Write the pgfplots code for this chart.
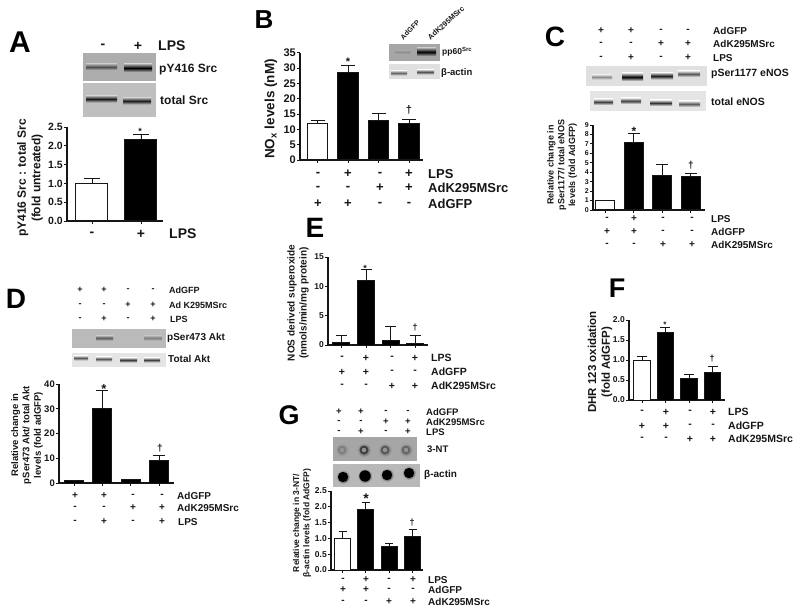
\documentclass[border=0pt]{standalone}
\usepackage{fontspec}
\usepackage{pgfplots}
\pgfplotsset{compat=1.18}
\setmainfont{Liberation Sans}
\definecolor{Ink}{HTML}{161616}

\newcommand{\fs}[1]{\fontsize{#1}{\the\dimexpr #1pt*12/10\relax}\selectfont\bfseries}
% blot: x1 x2 y1 y2 colour; band: x1 x2 y halfheight colour (fades to the last blot colour)
\newcommand{\blot}[5]{\gdef\blotbg{#5}\fill[#5] (#1,#3) rectangle (#2,#4);}
\newcommand{\band}[5]{\shade[top color=\blotbg,bottom color=\blotbg,middle color=#5] (#1,#3-#4) rectangle (#2,#3+#4);}
% sign row: y, list of x/sign, label x, label, size
\newcommand{\row}[5]{%
  \foreach \sx/\sg in {#2} {\node[font=\fs{#5},text=Ink] at (\sx,#1) {\sg};}
  \node[anchor=west,inner sep=0pt,font=\fs{#5},text=Ink] at (#3,#1) {#4};}
\newcommand{\lab}[4]{\node[anchor=west,inner sep=0pt,font=\fs{#4},text=Ink] at (#1,#2) {#3};}
\newcommand{\letter}[3]{\node[font=\fs{#3},text=black] at (#1) {#2};}
\newcommand{\ylab}[3]{\node[rotate=90,align=center,inner sep=0pt,font=\fs{#3},text=Ink] at (#1) {#2};}
\newcommand{\note}[3]{\node[font=\fs{#3},text=Ink] at (#1) {#2};}

\pgfplotsset{
  panel/.style={
    scale only axis, axis lines=left, axis line style={-,line width=1.1pt,draw=Ink},
    enlargelimits=false, ymin=0, xtick={0,1,2,3}, xticklabel=\empty,
    tick align=outside, major tick length=3pt, tick style={line width=0.9pt,draw=Ink},
    ybar, bar shift=0pt, /pgf/number format/assume math mode=true,
    yticklabel style={text=Ink,inner sep=1pt},
  },
  onedec/.style={yticklabel style={/pgf/number format/fixed,/pgf/number format/fixed zerofill,/pgf/number format/precision=1}},
  cap/.style={error bars/.cd, y dir=plus, y explicit,
    error bar style={line width=0.9pt,draw=Ink},
    error mark options={rotate=90,mark size=#1,line width=0.9pt,draw=Ink}},
  whitebar/.style={fill=white,draw=Ink,line width=1pt},
  blackbar/.style={fill=black,draw=Ink,line width=1pt},
}

\begin{document}
\begin{tikzpicture}
\begin{scope}[x=1pt,y=-1pt]
\path[use as bounding box] (0,0) rectangle (800,612);

% --- A ---
\letter{20,42}{A}{30}
\row{46}{103/-,138/+}{158}{LPS}{14}
\blot{83}{156}{53}{81}{black!32}
\band{86}{117}{67}{3}{black!70}
\band{124}{152}{68}{4}{black}
\blot{83}{156}{83}{117}{black!25}
\band{86}{117}{99}{3.5}{black!90}
\band{123}{151}{101}{3.5}{black!90}
\lab{159}{70}{pY416 Src}{12}
\lab{160}{100}{total Src}{12}
\ylab{30,178}{pY416 Src : total Src\\(fold untreated)}{12}
\row{234}{92/-,141/+}{169}{LPS}{14}
\note{140,131}{*}{9}

% --- B ---
\letter{264,20}{B}{26}
\blot{389}{440}{44}{61}{black!35}
\band{395}{410}{52}{1.8}{black!45}
\band{417}{436}{52}{4}{black}
\blot{389}{440}{64}{79}{black!12}
\band{391}{407}{73}{2.5}{black!60}
\band{417}{434}{72}{2.5}{black!70}
\node[rotate=45,font=\fs{7},text=Ink] at (410,30) {AdGFP};
\node[rotate=42,font=\fs{7.5},text=Ink] at (446,23) {AdK295MSrc};
\node[anchor=west,inner sep=0pt,font=\fs{8.5},text=Ink] at (442,52) {pp60\textsuperscript{Src}};
\lab{441}{73}{β-actin}{9.5}
\node[rotate=90,inner sep=0pt,font=\fs{13.5},text=Ink] at (271,109) {NO\textsubscript{x} levels (nM)};
\row{174}{318/-,348/+,380/-,409/+}{428}{LPS}{13}
\row{188}{318/-,348/-,380/+,409/+}{428}{AdK295MSrc}{13}
\row{204}{318/+,348/+,380/-,409/-}{428}{AdGFP}{13}
\note{348,62}{*}{11}
\note{409,110}{†}{11}

% --- C ---
\letter{555,37}{C}{28}
\row{31}{601/+,631/+,661/-,688/-}{713}{AdGFP}{10}
\row{44}{601/-,631/-,661/+,688/+}{713}{AdK295MSrc}{10}
\row{58}{601/-,631/+,661/-,688/+}{713}{LPS}{10}
\blot{586}{707}{66}{86}{black!12}
\band{592}{612}{77}{2.5}{black!45}
\band{622}{643}{77}{4}{black}
\band{651}{673}{76}{3.5}{black!90}
\band{678}{700}{74}{3}{black!65}
\lab{711}{74}{pSer1177 eNOS}{10.5}
\blot{590}{706}{91}{111}{black!10}
\band{594}{613}{102}{3}{black!75}
\band{621}{641}{101}{3}{black!75}
\band{650}{672}{103}{3}{black!80}
\band{679}{700}{104}{3}{black!65}
\lab{711}{102}{total eNOS}{10.5}
\ylab{562,165}{Relative change in\\pSer1177/ total eNOS\\levels (fold AdGFP)}{9}
\row{219}{607/-,634/+,663/-,692/-}{711}{LPS}{10}
\row{232}{607/+,634/+,663/-,692/-}{711}{AdGFP}{10}
\row{245}{607/-,634/-,663/+,692/+}{711}{AdK295MSrc}{10}
\note{634,131}{*}{12}
\note{691,165}{†}{10}

% --- D ---
\letter{16,299}{D}{28}
\row{290}{80/+,104/+,128/-,153/-}{169}{AdGFP}{9}
\row{305}{80/-,104/-,128/+,153/+}{169}{Ad K295MSrc}{9}
\row{319}{80/-,104/+,128/-,153/+}{170}{LPS}{9}
\blot{72}{166}{329}{348}{black!27}
\band{96}{113}{338}{2.5}{black!65}
\band{144}{162}{338}{2.5}{black!50}
\lab{167}{338}{pSer473 Akt}{10}
\blot{72}{166}{353}{367}{black!10}
\band{74}{88}{358}{2.5}{black!65}
\band{96}{112}{359}{2.5}{black!65}
\band{120}{137}{360}{2.5}{black!80}
\band{144}{160}{360}{2.5}{black!75}
\lab{168}{359}{Total Akt}{10}
\ylab{27,435}{Relative change in\\pSer473 Akt/ total Akt\\levels (fold adGFP)}{9.5}
\row{496}{75/+,104/+,133/-,162/-}{177}{AdGFP}{10}
\row{508}{75/-,104/-,133/+,162/+}{177}{AdK295MSrc}{10}
\row{522}{75/-,104/+,133/-,162/+}{178}{LPS}{10}
\note{104,389}{*}{13}
\note{160,448}{†}{10}

% --- E ---
\letter{315,228}{E}{28}
\ylab{298,303}{NOS derived superoxide\\(nmols/min/mg protein)}{10}
\row{358}{342/-,366/+,392/-,415/+}{431}{LPS}{10.5}
\row{372}{342/+,366/+,392/-,415/-}{431}{AdGFP}{10.5}
\row{386}{342/-,366/-,392/+,415/+}{431}{AdK295MSrc}{10.5}
\note{365,268}{*}{9}
\note{415,328}{†}{9}

% --- F ---
\letter{617,288}{F}{27}
\ylab{600,362}{DHR 123 oxidation\\(fold AdGFP)}{11.5}
\row{412}{642/-,666/+,690/-,713/+}{728}{LPS}{10.5}
\row{426}{642/+,666/+,690/-,713/-}{728}{AdGFP}{10.5}
\row{439}{642/-,666/-,690/+,713/+}{728}{AdK295MSrc}{10.5}
\note{665,325}{*}{8}
\note{712,359}{†}{9}

% --- G ---
\letter{289,415}{G}{27}
\row{412}{339/+,361/+,386/-,408/-}{426}{AdGFP}{9.5}
\row{422}{339/-,361/-,386/+,408/+}{426}{AdK295MSrc}{9.5}
\row{432}{339/-,361/+,386/-,408/+}{426}{LPS}{9.5}
\blot{333}{417}{437}{461}{black!35}
\foreach \dx/\dc in {342/50,364/75,385/65,406/60}{
  \shade[inner color=black!\dc,outer color=black!35] (\dx,450) circle (7);
  \fill[black!\dc] (\dx,450) circle (4.5);
  \fill[black!42] (\dx,450) circle (2.2);}
\lab{427}{449}{3-NT}{9.5}
\blot{333}{420}{464}{487}{black!28}
\foreach \dx/\dy/\dr in {343/477/7,365/476/7.5,387/475/7,409/473/7}{
  \shade[inner color=black,outer color=black!28] (\dx,\dy) circle (\dr);
  \fill[black] (\dx,\dy) circle (\dr-1.8);}
\lab{424}{475}{β-actin}{10}
\ylab{302,523}{Relative change in 3-NT/\\β-actin levels (fold AdGFP)}{8.5}
\row{580}{343/-,366/+,389/-,413/+}{428}{LPS}{10}
\row{590}{343/+,366/+,389/-,413/-}{428}{AdGFP}{10}
\row{602}{343/-,366/-,389/+,413/+}{428}{AdK295MSrc}{10}
\note{366,499}{*}{14}
\note{412,523}{†}{9}
\end{scope}

% --- plots ---
\begin{axis}[panel,onedec,at={(67pt,-221pt)},anchor=south west,width=96pt,height=94pt,
  xmin=-0.51,xmax=1.45,ymax=2.5,ytick={0,0.5,1,1.5,2,2.5},bar width=32pt,
  yticklabel style={font=\fs{10.5}}]
\addplot[whitebar,cap=8pt] coordinates {(0,1.0) +- (0,0.12)};
\addplot[blackbar,cap=8pt] coordinates {(1,2.18) +- (0,0.12)};
\end{axis}

\begin{axis}[panel,at={(300pt,-160pt)},anchor=south west,width=123pt,height=107.3pt,
  xmin=-0.58,xmax=3.46,ymax=35,ytick={0,5,10,15,20,25,30,35},bar width=20.5pt,
  yticklabel style={font=\fs{11}}]
\addplot[whitebar,cap=7pt] coordinates {(0,12) +- (0,0.8)};
\addplot[blackbar,cap=7pt] coordinates {(1,28.5) +- (0,2.5) (2,13) +- (0,2.2) (3,12) +- (0,1.3)};
\end{axis}

\begin{axis}[panel,at={(593pt,-210pt)},anchor=south west,width=112pt,height=85pt,
  xmin=-0.42,xmax=3.5,ymax=9,ytick={0,1,...,9},bar width=19pt,
  yticklabel style={font=\fs{7}}]
\addplot[whitebar,cap=6pt] coordinates {(0,1.0) +- (0,0.05)};
\addplot[blackbar,cap=6pt] coordinates {(1,7.1) +- (0,1.0) (2,3.65) +- (0,1.2) (3,3.6) +- (0,0.3)};
\end{axis}

\begin{axis}[panel,at={(59pt,-483pt)},anchor=south west,width=115pt,height=99pt,
  xmin=-0.53,xmax=3.52,ymax=40,ytick={0,10,20,30,40},bar width=19pt,
  yticklabel style={font=\fs{9.5}}]
\addplot[blackbar,cap=6pt] coordinates {(0,1) +- (0,0.1) (1,30) +- (0,7.3) (2,1.3) +- (0,0.2) (3,9.2) +- (0,2.1)};
\end{axis}

\begin{axis}[panel,at={(328pt,-345pt)},anchor=south west,width=100pt,height=88pt,
  xmin=-0.54,xmax=3.51,ymax=15,ytick={0,5,10,15},bar width=17pt,
  yticklabel style={font=\fs{8.5}}]
\addplot[blackbar,cap=5.5pt] coordinates {(0,0.35) +- (0,1.2) (1,11) +- (0,1.8) (2,0.75) +- (0,2.35) (3,0.2) +- (0,1.35)};
\end{axis}

\begin{axis}[panel,onedec,at={(629pt,-400pt)},anchor=south west,width=96pt,height=80pt,
  xmin=-0.55,xmax=3.53,ymax=2,ytick={0,0.5,1,1.5,2},bar width=16.5pt,
  yticklabel style={font=\fs{8.5}}]
\addplot[whitebar,cap=5pt] coordinates {(0,1.0) +- (0,0.1)};
\addplot[blackbar,cap=5pt] coordinates {(1,1.7) +- (0,0.12) (2,0.53) +- (0,0.12) (3,0.68) +- (0,0.15)};
\end{axis}

\begin{axis}[panel,onedec,at={(331pt,-570pt)},anchor=south west,width=92pt,height=79pt,
  xmin=-0.5,xmax=3.45,ymax=2.5,ytick={0,0.5,1,1.5,2,2.5},bar width=16pt,
  yticklabel style={font=\fs{8.5}}]
\addplot[whitebar,cap=4pt] coordinates {(0,1.0) +- (0,0.23)};
\addplot[blackbar,cap=4pt] coordinates {(1,1.93) +- (0,0.2) (2,0.75) +- (0,0.1) (3,1.05) +- (0,0.23)};
\end{axis}
\end{tikzpicture}
\end{document}
